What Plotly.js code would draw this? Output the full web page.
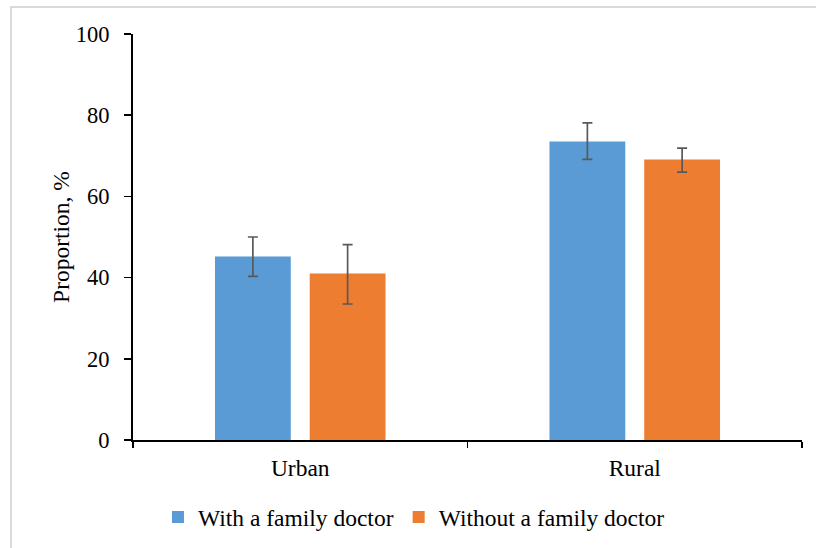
<!DOCTYPE html>
<html>
<head>
<meta charset="utf-8">
<script src="https://cdn.plot.ly/plotly-3.0.1.min.js"></script>
<style>
  html, body { margin: 0; padding: 0; background: #ffffff; }
  #frame { position: absolute; left: 10px; top: 6px; width: 900px; height: 600px;
           border-top: 2px solid #d9d9d9; border-left: 2px solid #d9d9d9; }
  #chart { position: absolute; left: 0; top: 0; width: 816px; height: 548px; }
</style>
</head>
<body>
<div id="frame"></div>
<div id="chart"></div>
<script>
const categories = ["Urban", "Rural"];
const seriesNames = ["With a family doctor", "Without a family doctor"];
const withDoctor = [45.2, 73.5];
const withDoctorErrPlus = [4.8, 4.6];
const withDoctorErrMinus = [4.9, 4.4];
const withoutDoctor = [41.0, 69.1];
const withoutDoctorErrPlus = [7.1, 2.8];
const withoutDoctorErrMinus = [7.5, 3.1];
const yTicks = [0, 20, 40, 60, 80, 100];

const errStyle = { type: "data", symmetric: false, color: "#595959", thickness: 1.7, width: 5 };

const traces = [
  {
    type: "bar", name: seriesNames[0], x: categories, y: withDoctor,
    marker: { color: "#5B9BD5" },
    error_y: Object.assign({}, errStyle, { array: withDoctorErrPlus, arrayminus: withDoctorErrMinus }),
    hoverinfo: "skip"
  },
  {
    type: "bar", name: seriesNames[1], x: categories, y: withoutDoctor,
    marker: { color: "#ED7D31" },
    error_y: Object.assign({}, errStyle, { array: withoutDoctorErrPlus, arrayminus: withoutDoctorErrMinus }),
    hoverinfo: "skip"
  }
];

const serif = "Liberation Serif, Times New Roman, serif";

const layout = {
  width: 816, height: 548,
  margin: { l: 133, r: 14, t: 34, b: 108, autoexpand: false },
  paper_bgcolor: "rgba(0,0,0,0)",
  plot_bgcolor: "rgba(0,0,0,0)",
  font: { family: serif, color: "#000000", size: 23 },
  barmode: "group",
  bargap: 0.4335,
  bargroupgap: 0.2,
  showlegend: true,
  legend: {
    orientation: "h", x: 0.42, xanchor: "center", y: -0.19, yanchor: "middle",
    font: { family: serif, size: 23.5, color: "#000000" },
    itemwidth: 30, traceorder: "normal"
  },
  xaxis: {
    type: "category", automargin: false,
    showline: true, linecolor: "#000000", linewidth: 2,
    ticks: "outside", tickson: "boundaries", ticklen: 6, tickwidth: 1.5, tickcolor: "#000000",
    ticklabelstandoff: 6,
    tickfont: { family: serif, size: 23.5, color: "#000000" },
    showgrid: false, zeroline: false, fixedrange: true
  },
  yaxis: {
    range: [0, 100], automargin: false,
    tickvals: yTicks, ticktext: yTicks.map(String),
    showline: true, linecolor: "#000000", linewidth: 2,
    ticks: "outside", ticklen: 7, tickwidth: 1.5, tickcolor: "#000000",
    ticklabelstandoff: 10,
    tickfont: { family: serif, size: 22.5, color: "#000000" },
    showgrid: false, zeroline: false, fixedrange: true,
    title: { text: "Proportion, %", font: { family: serif, size: 23.5, color: "#000000" }, standoff: 0 }
  }
};

Plotly.newPlot("chart", traces, layout, { displayModeBar: false, staticPlot: true });
</script>
</body>
</html>
